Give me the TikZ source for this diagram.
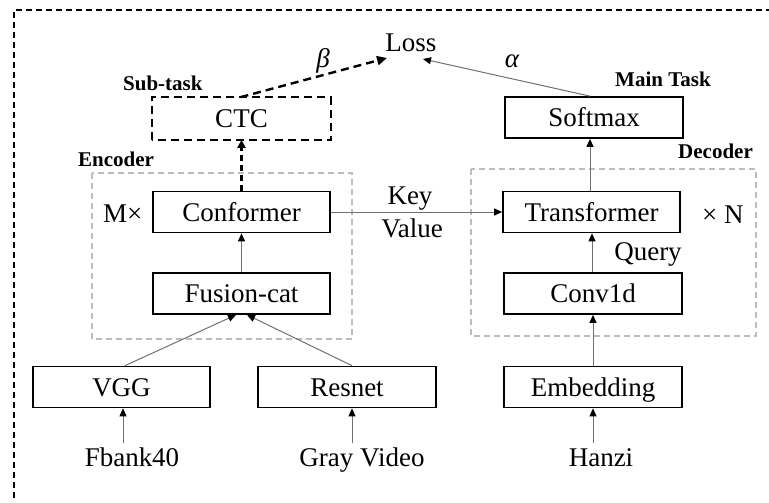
\documentclass[tikz,border=0pt]{standalone}
\usepackage{fontspec}
\setmainfont{Liberation Serif}
\usetikzlibrary{arrows.meta,calc}

\definecolor{linegray}{HTML}{707070}
\definecolor{regiongray}{HTML}{BDBDBD}

\tikzset{
  block/.style={draw=black, line width=1.7pt, minimum width=177pt, minimum height=41pt,
    inner sep=0pt, text height=18pt, text depth=0pt,
    font=\fontsize{27}{29}\selectfont},
  region/.style={draw=regiongray, line width=1.2pt, dash pattern=on 6pt off 4pt},
  tag/.style={font=\fontsize{21}{23}\selectfont\bfseries, inner sep=0pt, anchor=base west},
  plain/.style={font=\fontsize{27}{29}\selectfont, inner sep=0pt, anchor=base},
  greek/.style={font=\fontsize{27}{29}\selectfont\itshape, inner sep=0pt, anchor=base},
  flow/.style={draw=linegray, line width=1pt, -{Triangle[length=8pt,width=7pt,color=black]}},
  auxflow/.style={draw=black, line width=2.4pt, dash pattern=on 8pt off 5pt,
    -{Triangle[length=10pt,width=9pt,color=black]}},
}

\begin{document}
\begin{tikzpicture}[x=1pt,y=-1pt]
\useasboundingbox (0,0) rectangle (769,503);

% outer frame
\draw[line width=1.3pt, dash pattern=on 6pt off 4pt] (14,498) -- (14,10) -- (769,10);

% encoder / decoder regions
\draw[region] (92,173) rectangle (352,339);
\draw[region] (471,169) rectangle (756,336);

% blocks
\node[block, draw=none] (ctc) at (241.5,118.5) {CTC};
\draw[line width=2.2pt, dash pattern=on 8pt off 5pt] (ctc.south west) rectangle (ctc.north east);
\node[block] (conformer) at (241.5,212) {Conformer};
\node[block] (fusion) at (241.5,293.5) {Fusion-cat};
\node[block] (vgg) at (121.5,387) {VGG};
\node[block, minimum width=178pt] (resnet) at (347,387) {Resnet};
\node[block, minimum width=178pt] (embedding) at (593,387) {Embedding};
\node[block, minimum width=178pt] (conv) at (593,293.5) {Conv1d};
\node[block] (transformer) at (591.5,212) {Transformer};
\node[block, minimum width=178pt] (softmax) at (594,117.5) {Softmax};

% plain labels
\node[plain] (loss) at (411,52) {Loss};
\node[plain] (fbank) at (132,466) {Fbank40};
\node[plain] (gray) at (362,466) {Gray Video};
\node[plain] (hanzi) at (601,466) {Hanzi};
\node[plain] (key) at (410,204) {Key};
\node[plain] (value) at (412,237) {Value};
\node[plain] (query) at (648,260) {Query};
\node[plain, anchor=base west] (mtimes) at (103,222) {M×};
\node[plain, anchor=base west] (ntimes) at (702,223) {× N};
\node[greek] (beta) at (323,68) {β};
\node[greek] (alpha) at (512,67) {α};

\node[tag] (subtask) at (123,91) {Sub-task};
\node[tag] (encoder) at (78,166) {Encoder};
\node[tag] (maintask) at (615,87) {Main Task};
\node[tag] (decoder) at (678,158) {Decoder};

% arrow ends at the loss label
\coordinate (lossin1) at (387,58);
\coordinate (lossin2) at (423,59);

% connectors
\draw[flow] ($(vgg.south)+(1.5,35)$) -- ([xshift=1.5pt]vgg.south);
\draw[flow] ($(resnet.south)+(5,35)$) -- ([xshift=5pt]resnet.south);
\draw[flow] ($(embedding.south)+(0,35)$) -- (embedding.south);
\draw[flow] ([xshift=3.5pt]vgg.north) -- ([xshift=-5.5pt]fusion.south);
\draw[flow] ([xshift=5pt]resnet.north) -- ([xshift=5.5pt]fusion.south);
\draw[flow] (fusion.north) -- (conformer.south);
\draw[flow] (conformer.east) -- (transformer.west);
\draw[flow] (embedding.north) -- (conv.south);
\draw[flow] ([xshift=-1pt]conv.north) -- ([xshift=0.5pt]transformer.south);
\draw[flow] ([xshift=-1.5pt]transformer.north) -- ([xshift=-4pt]softmax.south);
\draw[flow] ([xshift=-4pt]softmax.north) -- (lossin2);
\draw[line width=2.2pt, dash pattern=on 6pt off 4pt, -{Triangle[length=8pt,width=8pt]}] (conformer.north) -- (ctc.south);
\draw[auxflow] ([xshift=-1pt]ctc.north) -- (lossin1);
\end{tikzpicture}
\end{document}
